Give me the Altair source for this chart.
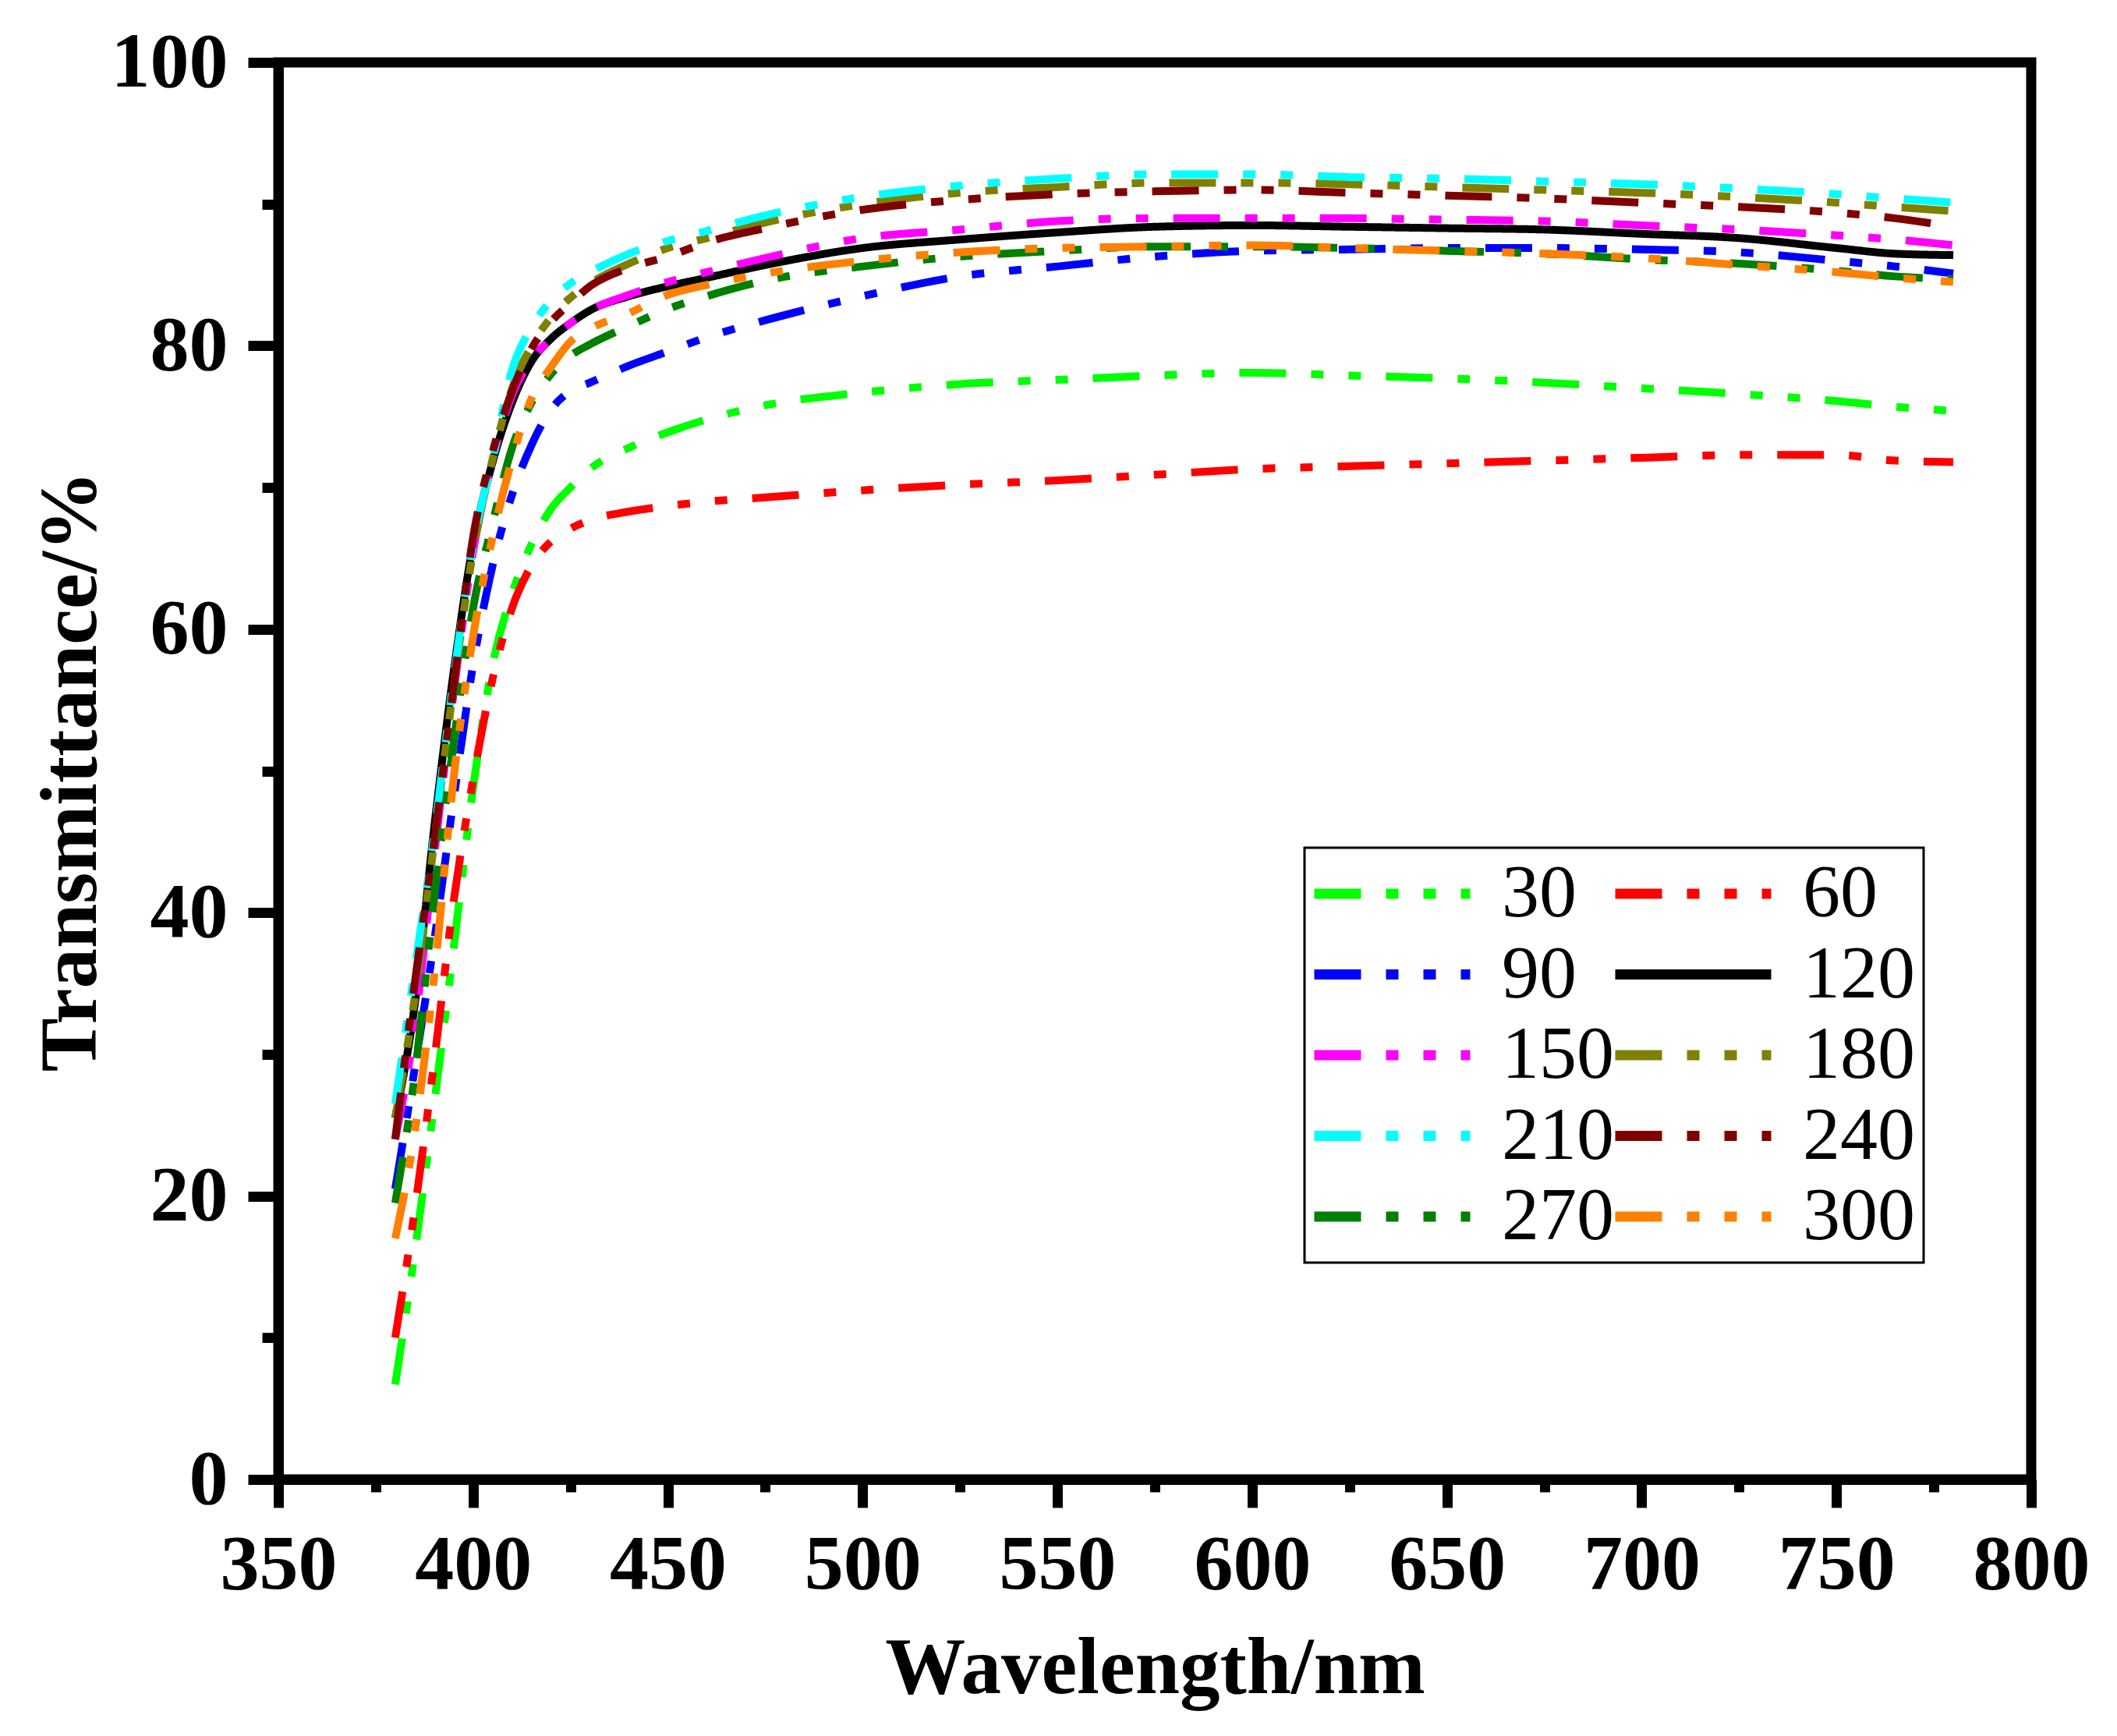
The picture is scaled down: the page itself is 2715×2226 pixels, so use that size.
import altair as alt
import pandas as pd

wavelength = [380, 385, 390, 395, 400, 405, 410, 415, 420, 425, 430, 440, 450, 460, 475,
              500, 525, 550, 575, 600, 625, 650, 675, 700, 725, 750, 765, 780]

series_names = ["30", "60", "90", "120", "150", "180", "210", "240", "270", "300"]

t30 = [6.7, 16.0, 26.5, 37.5, 48.8, 57.5, 62.5, 66.0, 68.5, 70.0, 71.3, 72.8, 73.9, 74.8, 75.8,
       76.7, 77.3, 77.6, 77.9, 78.1, 77.9, 77.7, 77.4, 77.0, 76.6, 76.1, 75.7, 75.4]
t60 = [10.0, 19.0, 29.5, 40.8, 49.4, 56.5, 61.5, 64.5, 66.2, 67.1, 67.7, 68.3, 68.7, 69.0, 69.3,
       69.8, 70.2, 70.5, 70.9, 71.3, 71.5, 71.7, 71.9, 72.1, 72.3, 72.3, 71.9, 71.8]
t90 = [20.5, 29.0, 38.0, 48.0, 57.5, 64.5, 69.5, 73.0, 75.5, 76.8, 77.4, 78.6, 79.6, 80.6, 81.8,
       83.5, 84.9, 85.6, 86.3, 86.7, 86.8, 86.9, 86.9, 86.8, 86.6, 86.0, 85.6, 85.1]
t120 = [25.5, 33.5, 46.0, 57.0, 66.0, 71.8, 76.0, 78.9, 80.5, 81.6, 82.5, 83.5, 84.2, 84.8, 85.7,
        86.9, 87.5, 88.0, 88.4, 88.5, 88.4, 88.3, 88.2, 87.9, 87.6, 86.9, 86.5, 86.4]
t150 = [24.0, 32.0, 44.0, 55.5, 65.5, 72.0, 76.5, 79.0, 80.5, 81.6, 82.5, 83.6, 84.5, 85.2, 86.2,
        87.6, 88.2, 88.8, 89.0, 89.0, 89.0, 88.9, 88.8, 88.5, 88.2, 87.8, 87.5, 87.1]
t180 = [25.5, 34.0, 45.0, 56.0, 65.5, 72.0, 77.0, 80.0, 82.0, 83.4, 84.4, 85.8, 86.9, 87.6, 88.7,
        90.0, 90.8, 91.2, 91.5, 91.5, 91.4, 91.2, 91.0, 90.8, 90.5, 90.1, 89.8, 89.5]
t210 = [26.5, 36.0, 45.5, 56.5, 66.0, 72.0, 78.3, 81.3, 83.2, 84.4, 85.2, 86.5, 87.4, 88.1, 89.2,
        90.5, 91.3, 91.8, 92.1, 92.1, 91.9, 91.8, 91.6, 91.4, 91.1, 90.7, 90.4, 90.1]
t240 = [24.0, 35.0, 45.0, 56.0, 66.5, 72.5, 76.8, 79.8, 81.7, 83.0, 84.2, 85.5, 86.3, 87.3, 88.3,
        89.6, 90.3, 90.7, 90.9, 91.0, 90.8, 90.6, 90.4, 90.1, 89.8, 89.4, 89.0, 88.4]
t270 = [19.5, 28.5, 41.0, 52.0, 61.5, 67.5, 72.8, 76.0, 78.0, 79.3, 80.1, 81.4, 82.6, 83.5, 84.6,
        85.6, 86.3, 86.7, 87.0, 87.0, 86.9, 86.7, 86.5, 86.1, 85.8, 85.3, 84.9, 84.7]
t300 = [17.0, 24.5, 35.5, 49.5, 59.5, 66.5, 72.0, 76.3, 78.5, 80.3, 81.2, 82.3, 83.6, 84.3, 85.1,
        86.0, 86.6, 86.9, 87.0, 87.1, 86.9, 86.7, 86.5, 86.2, 85.7, 85.2, 84.8, 84.5]

all_series = [t30, t60, t90, t120, t150, t180, t210, t240, t270, t300]

colors = ["#00FF00", "#FF0000", "#0000FF", "#000000", "#FF00FF",
          "#808000", "#00FFFF", "#800000", "#008000", "#FF8000"]

dash_dot_dot = [60, 32, 16, 32, 16, 32]
dashes = [dash_dot_dot, dash_dot_dot, dash_dot_dot, [1, 0], dash_dot_dot,
          dash_dot_dot, dash_dot_dot, dash_dot_dot, dash_dot_dot, dash_dot_dot]

x_ticks = list(range(350, 801, 25))
y_ticks = list(range(0, 101, 10))

rows = []
for k, (name, vals) in enumerate(zip(series_names, all_series)):
    for w, v in zip(wavelength, vals):
        rows.append({"Wavelength": w, "T": v, "series": name, "k": k})
df = pd.DataFrame(rows)

FONT = "Liberation Serif"

legend = alt.Legend(
    title=None,
    orient="none",
    direction="horizontal",
    legendX=1316,
    legendY=1007,
    columns=2,
    symbolType="stroke",
    symbolSize=40000,
    symbolStrokeWidth=13,
    symbolOffset=-5,
    clipHeight=96,
    rowPadding=7.5,
    columnPadding=-30,
    labelOffset=34,
    labelFont=FONT,
    labelFontSize=96,
    labelFontWeight="normal",
    labelColor="black",
    labelLimit=400,
    labelBaseline="middle",
    padding=11,
    strokeColor="black",
)

x_axis = alt.Axis(
    title="Wavelength/nm",
    values=x_ticks,
    labelExpr="datum.value % 50 === 0 ? datum.label : ''",
    tickSize={"condition": {"test": "datum.value % 50 !== 0", "value": 16}, "value": 36},
    tickWidth=13,
    tickColor="black",
    domainColor="black",
    domainWidth=13,
    labelFont=FONT,
    labelFontWeight="bold",
    labelFontSize=100,
    labelColor="black",
    labelPadding=24,
    labelFlush=False,
    labelOverlap=False,
    grid=False,
    titleFont=FONT,
    titleFontWeight="bold",
    titleFontSize=103,
    titleColor="black",
    titleBaseline="alphabetic",
    titleY=273,
)

y_axis = alt.Axis(
    title="Transmittance/%",
    values=y_ticks,
    labelExpr="datum.value % 20 === 0 ? datum.label : ''",
    tickSize={"condition": {"test": "datum.value % 20 !== 0", "value": 21}, "value": 39},
    tickWidth=13,
    tickColor="black",
    domainColor="black",
    domainWidth=13,
    labelFont=FONT,
    labelFontWeight="bold",
    labelFontSize=100,
    labelColor="black",
    labelPadding=26,
    labelFlush=False,
    labelOverlap=False,
    grid=False,
    titleFont=FONT,
    titleFontWeight="bold",
    titleFontSize=103,
    titleColor="black",
    titleBaseline="alphabetic",
    titleAngle=270,
    titleX=-235,
)

chart = alt.Chart(df).mark_line(strokeWidth=10, strokeCap="butt", interpolate="monotone").encode(
    x=alt.X("Wavelength:Q", scale=alt.Scale(domain=[350, 800], nice=False, zero=False), axis=x_axis),
    y=alt.Y("T:Q", scale=alt.Scale(domain=[0, 100], nice=False), axis=y_axis),
    color=alt.Color("series:N", scale=alt.Scale(domain=series_names, range=colors), legend=legend),
    strokeDash=alt.StrokeDash("series:N", scale=alt.Scale(domain=series_names, range=dashes), legend=legend),
    order=alt.Order("k:Q"),
).properties(
    width=2248,
    height=1817,
    autosize=alt.AutoSizeParams(type="none"),
    padding={"left": 349, "top": 72, "right": 100, "bottom": 300},
).configure_view(
    stroke="black",
    strokeWidth=13,
).configure_legend(
    strokeWidth=3,
    cornerRadius=0,
)

chart.save("out.html", embed_options={"renderer": "svg", "actions": False})
